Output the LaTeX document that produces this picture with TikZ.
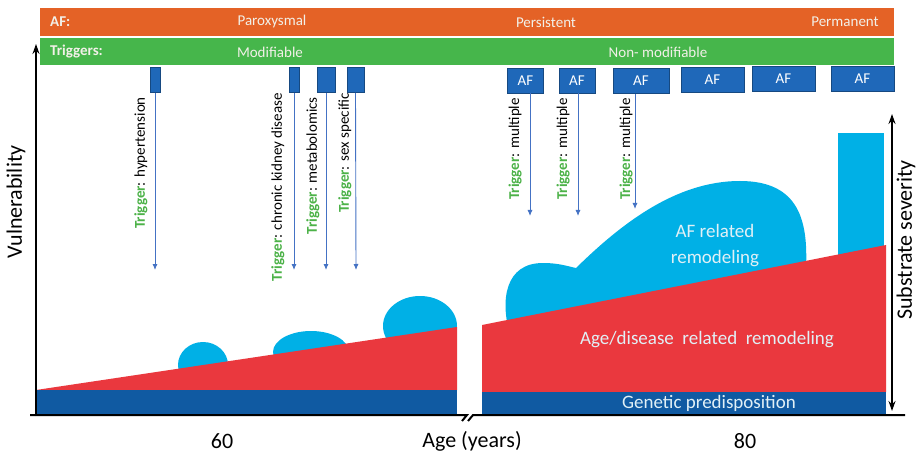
\documentclass[tikz,border=0pt]{standalone}
\usepackage{fontspec}
\setmainfont{Carlito}
\usetikzlibrary{arrows.meta}
\definecolor{afor}{RGB}{228,98,38}
\definecolor{trgr}{RGB}{70,182,75}
\definecolor{gblue}{RGB}{16,90,162}
\definecolor{rred}{RGB}{234,56,62}
\definecolor{cyanb}{RGB}{0,176,230}
\definecolor{boxb}{RGB}{31,104,185}
\definecolor{arrb}{RGB}{68,114,196}
\definecolor{tgreen}{RGB}{76,178,72}
\definecolor{txtw}{RGB}{242,240,232}
\definecolor{txtc}{RGB}{225,240,246}
\begin{document}
\begin{tikzpicture}[x=1pt,y=-1pt,
  bar/.style={draw=none,inner sep=0,anchor=north west},
  bartext/.style={text=txtw,font=\fontsize{15}{18}\selectfont,inner sep=0},
  barhead/.style={text=txtw,font=\bfseries\fontsize{15}{18}\selectfont,inner sep=0,anchor=west},
  tbox/.style={fill=boxb,draw=boxb!70!black,line width=0.6pt,inner sep=0,minimum height=25pt},
  afbox/.style={tbox,text=white,font=\fontsize{15}{17}\selectfont},
  trarrow/.style={draw=arrb,line width=0.9pt,-{Latex[length=6pt,width=5pt]}},
  lbl/.style={rotate=90,anchor=east,inner sep=0,font=\fontsize{15}{18}\selectfont},
  axisline/.style={line width=2pt,black},
  axlbl/.style={font=\fontsize{22}{26}\selectfont,inner sep=0},
  areatext/.style={text=txtc,font=\fontsize{19}{23}\selectfont,inner sep=0,align=center}]
\useasboundingbox (0,0) rectangle (917,462);
\fill[white] (0,0) rectangle (917,462);
\newcommand{\trg}{\textcolor{tgreen}{\textbf{Trigger}}}

% header bars
\node[bar,fill=afor,minimum width=854pt,minimum height=28pt] (afbar) at (40,8) {};
\node[bar,fill=trgr,minimum width=854pt,minimum height=27pt] (trbar) at (40,38) {};
\node[barhead] (afh) at (50,22) {AF:};
\node[bartext] (parox) at (272,22) {Paroxysmal};
\node[bartext] (persist) at (546,22) {Persistent};
\node[bartext] (perm) at (845,22) {Permanent};
\node[barhead] (trh) at (50,52) {Triggers:};
\node[bartext] (modif) at (270,52) {Modifiable};
\node[bartext] (nonmod) at (658,52) {Non- modifiable};

% cyan remodeling shapes (behind red)
\fill[cyanb] (203,365) ellipse [x radius=25pt,y radius=23pt];
\fill[cyanb] (311,352) ellipse [x radius=38pt,y radius=21pt];
\fill[cyanb] (420,326) ellipse [x radius=37pt,y radius=30pt];
\fill[cyanb] (510,335) .. controls (500,300) and (505,263) .. (543,263)
  .. controls (560,263) and (570,267) .. (576,268)
  .. controls (620,225) and (675,181) .. (740,181)
  .. controls (800,181) and (808,222) .. (806,268) -- (806,335) -- cycle;
\fill[cyanb] (838,133) rectangle (884,270);

% red and blue areas
\fill[rred] (36,390) -- (457,327) -- (457,390) -- cycle;
\fill[gblue] (36,390) rectangle (457,415);
\fill[rred] (482,392) -- (482,325) -- (886,245) -- (886,392) -- cycle;
\fill[gblue] (482,392) rectangle (886,414);

\node[areatext] (afrem) at (715,246) {AF related\\[3pt]remodeling};
\node[areatext] (agerem) at (707,340) {Age/disease\ \ related\ \ remodeling};
\node[areatext] (gen) at (709,403) {Genetic predisposition};

% axes
\coordinate (o) at (36,416);
\coordinate (ytop) at (36,44);
\coordinate (xl) at (30,415);
\coordinate (xlb) at (467,415);
\coordinate (xlc) at (462,421);
\coordinate (xrb) at (473,415);
\coordinate (xrc) at (468,421);
\coordinate (xr) at (905,415);
\draw[axisline,-{Stealth[length=10pt,width=7pt]}] (o) -- (ytop);
\draw[axisline] (xl) -- (xlb) -- (xlc);
\draw[axisline] (xrc) -- (xrb) -- (xr);
\coordinate (st) at (892,114);
\coordinate (sb) at (892,411);
\draw[axisline,{Stealth[length=10pt,width=7pt]}-{Stealth[length=10pt,width=7pt]}] (st) -- (sb);

\node[axlbl,rotate=90] (vul) at (16,202) {Vulnerability};
\node[axlbl,rotate=90] (subs) at (906,240) {Substrate severity};
\node[axlbl] (s60) at (222,441) {60};
\node[axlbl] (age) at (472,441) {Age (years)};
\node[axlbl] (s80) at (745,441) {80};

% modifiable trigger boxes and arrows
\node[tbox,minimum width=10pt] (b1) at (155,80) {};
\node[tbox,minimum width=10pt] (b2) at (294,80) {};
\node[tbox,minimum width=18pt] (b3) at (326,80) {};
\node[tbox,minimum width=17pt] (b4) at (355.5,80) {};
\coordinate (e1) at (155,270);
\coordinate (e2) at (294,270);
\coordinate (e3) at (326,270);
\coordinate (e4) at (356,270);
\draw[trarrow] (b1.south) -- (e1);
\draw[trarrow] (b2.south) -- (e2);
\draw[trarrow] (b3.south) -- (e3);
\draw[trarrow] (b4.south) -- (e4);
\node[lbl] (l1) at (141,97) {\trg: hypertension};
\node[lbl] (l2) at (278,93) {\trg: chronic kidney disease};
\node[lbl] (l3) at (313,97) {\trg: metabolomics};
\node[lbl] (l4) at (345,93) {\trg: sex specific};

% AF boxes
\node[afbox,minimum width=36pt] (a1) at (525.5,80.5) {AF};
\node[afbox,minimum width=36pt] (a2) at (577,80.5) {AF};
\node[afbox,minimum width=56pt] (a3) at (641,81) {AF};
\node[afbox,minimum width=63pt] (a4) at (712.5,80) {AF};
\node[afbox,minimum width=63pt] (a5) at (783.5,79) {AF};
\node[afbox,minimum width=63pt] (a6) at (862.5,79) {AF};
\coordinate (f1) at (530,216);
\coordinate (f2) at (578,216);
\coordinate (f3) at (635,209);
\draw[trarrow] (a1.south -| f1) -- (f1);
\draw[trarrow] (a2.south -| f2) -- (f2);
\draw[trarrow] (a3.south -| f3) -- (f3);
\node[lbl] (m1) at (515,98) {\trg: multiple};
\node[lbl] (m2) at (563,98) {\trg: multiple};
\node[lbl] (m3) at (626,98) {\trg: multiple};
\end{tikzpicture}
\end{document}
